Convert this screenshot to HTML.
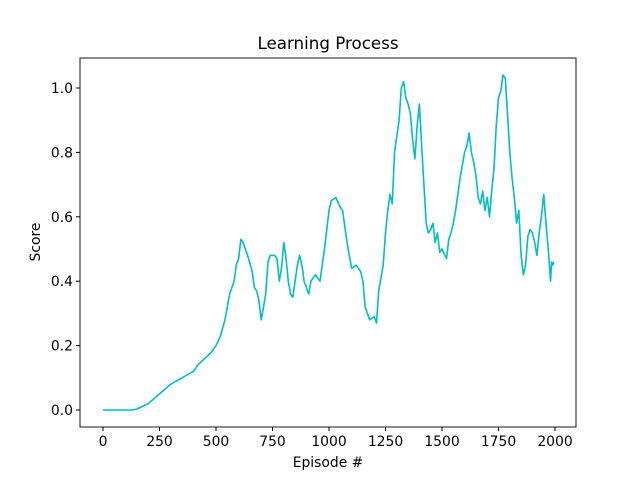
<!DOCTYPE html>
<html><head><meta charset="utf-8"><style>
body{margin:0;background:#fff;font-family:"Liberation Sans","DejaVu Sans",sans-serif;}
svg text{font-family:"DejaVu Sans","Liberation Sans",sans-serif;}
</style></head><body>
<svg id="chart" width="640" height="480" xmlns="http://www.w3.org/2000/svg">
<rect width="640" height="480" fill="#fff"/>
<text x="328" y="49" font-size="16.7" text-anchor="middle">Learning Process</text>
<g id="xt"></g>
<g id="yt"></g>
<path id="line" fill="none" stroke="#00bfbf" stroke-width="1.6" stroke-linejoin="round"/>
<rect x="80" y="58" width="496" height="369" fill="none" stroke="#000" stroke-width="0.9"/>
<text x="328" y="467" font-size="13.9" text-anchor="middle">Episode #</text>
<text transform="translate(40,242) rotate(-90)" font-size="13.9" text-anchor="middle">Score</text>
</svg>
<script>
const episodes=[0,130,150,200,250,300,350,400,420,450,480,500,520,540,560,580,590,600,610,620,640,660,670,680,690,700,710,720,730,740,760,770,780,790,800,810,820,830,840,850,860,870,880,890,900,910,920,940,960,980,1000,1010,1030,1050,1060,1070,1080,1090,1100,1120,1140,1150,1160,1170,1180,1200,1210,1220,1240,1250,1260,1270,1280,1290,1310,1320,1330,1340,1350,1360,1370,1380,1390,1400,1410,1420,1430,1440,1450,1460,1470,1480,1490,1500,1520,1530,1540,1550,1560,1580,1600,1610,1620,1630,1640,1650,1660,1670,1680,1690,1700,1710,1720,1730,1740,1750,1760,1770,1780,1790,1800,1810,1820,1830,1840,1850,1860,1870,1880,1890,1900,1910,1920,1930,1940,1950,1960,1970,1975,1980,1985,1990,1995];
const scores=[0,0,0.003,0.02,0.05,0.08,0.10,0.12,0.14,0.16,0.18,0.20,0.23,0.28,0.36,0.40,0.45,0.47,0.53,0.52,0.48,0.43,0.38,0.37,0.34,0.28,0.32,0.36,0.46,0.48,0.48,0.47,0.40,0.44,0.52,0.47,0.40,0.36,0.35,0.40,0.45,0.48,0.45,0.40,0.38,0.36,0.40,0.42,0.40,0.50,0.62,0.65,0.66,0.63,0.62,0.57,0.52,0.48,0.44,0.45,0.43,0.40,0.32,0.30,0.28,0.29,0.27,0.37,0.45,0.55,0.62,0.67,0.64,0.80,0.90,1.0,1.02,0.97,0.95,0.92,0.84,0.78,0.88,0.95,0.82,0.70,0.58,0.55,0.56,0.58,0.52,0.55,0.49,0.50,0.47,0.53,0.55,0.58,0.62,0.72,0.80,0.82,0.86,0.80,0.77,0.73,0.66,0.64,0.68,0.62,0.66,0.60,0.68,0.75,0.88,0.97,0.99,1.04,1.03,0.92,0.80,0.72,0.66,0.58,0.62,0.48,0.42,0.45,0.54,0.56,0.55,0.52,0.48,0.55,0.60,0.67,0.58,0.50,0.45,0.40,0.46,0.45,0.46];
const xTicks=[0,250,500,750,1000,1250,1500,1750,2000];
const yTicks=[0.0,0.2,0.4,0.6,0.8,1.0];
const X=v=>103+v*(555-103)/2000;
const Y=v=>410-v*322;
const NS="http://www.w3.org/2000/svg";
let d="";
episodes.forEach((e,i)=>{d+=(i?"L":"M")+X(e).toFixed(1)+","+Y(scores[i]).toFixed(1);});
document.getElementById("line").setAttribute("d",d);
const xt=document.getElementById("xt"),yt=document.getElementById("yt");
xTicks.forEach(t=>{
 const l=document.createElementNS(NS,"line");
 l.setAttribute("x1",X(t));l.setAttribute("x2",X(t));l.setAttribute("y1",427);l.setAttribute("y2",431);l.setAttribute("stroke","#000");
 
 
 xt.appendChild(l);
 const tx=document.createElementNS(NS,"text");
 tx.setAttribute("x",X(t));tx.setAttribute("y",446);tx.setAttribute("font-size","13.9");tx.setAttribute("text-anchor","middle");
 tx.textContent=t;
 
 
 xt.appendChild(tx);
});
yTicks.forEach(t=>{
 const l=document.createElementNS(NS,"line");
 l.setAttribute("x1",76);l.setAttribute("x2",80);l.setAttribute("y1",Y(t));l.setAttribute("y2",Y(t));l.setAttribute("stroke","#000");
 
 
 yt.appendChild(l);
 const tx=document.createElementNS(NS,"text");
 tx.setAttribute("x",73);tx.setAttribute("y",Y(t)+5);tx.setAttribute("font-size","13.9");tx.setAttribute("text-anchor","end");
 tx.textContent=t.toFixed(1);
 
 
 yt.appendChild(tx);
});
</script>
</body></html>
